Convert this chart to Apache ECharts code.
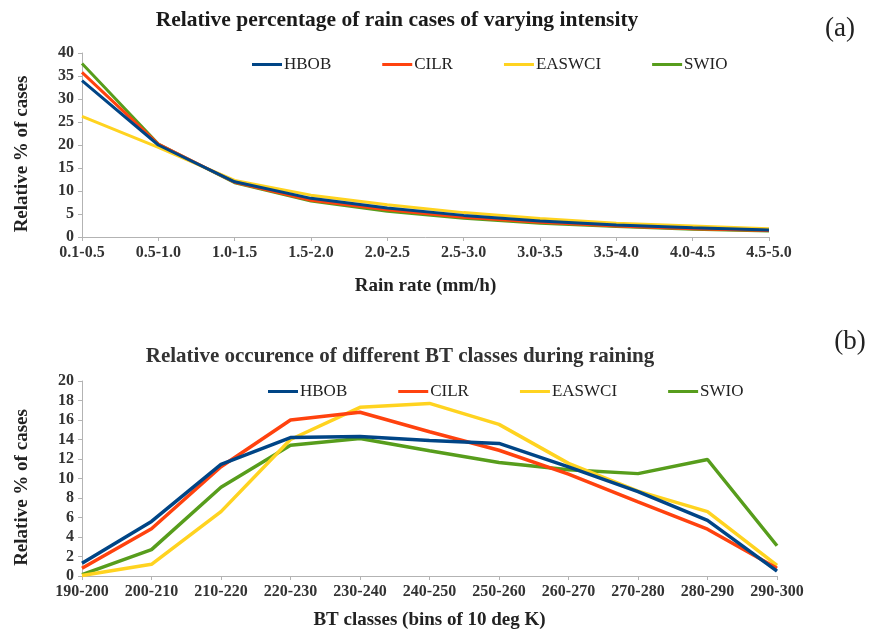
<!DOCTYPE html>
<html>
<head>
<meta charset="utf-8">
<script src="https://cdn.jsdelivr.net/npm/echarts@6/dist/echarts.min.js"></script>
<style>html,body{margin:0;padding:0;background:#fff}#c{width:869px;height:631px}</style>
</head>
<body>
<div id="c"></div>
<script>
// ---- Data ----
const seriesNames = ['HBOB', 'CILR', 'EASWCI', 'SWIO'];
const colors = ['#004586', '#ff420e', '#ffd320', '#579d1c'];

const rainCategories = ['0.1-0.5','0.5-1.0','1.0-1.5','1.5-2.0','2.0-2.5','2.5-3.0','3.0-3.5','3.5-4.0','4.0-4.5','4.5-5.0'];
const rainHBOB   = [34.0, 20.0, 12.0, 8.4, 6.3, 4.7, 3.5, 2.6, 2.0, 1.5];
const rainCILR   = [35.8, 20.2, 11.9, 8.0, 5.9, 4.3, 3.2, 2.4, 1.8, 1.4];
const rainEASWCI = [26.2, 19.5, 12.3, 9.1, 7.0, 5.3, 4.0, 3.0, 2.4, 1.8];
const rainSWIO   = [37.7, 20.2, 11.8, 7.8, 5.6, 4.1, 3.0, 2.3, 1.7, 1.3];

const btCategories = ['190-200','200-210','210-220','220-230','230-240','240-250','250-260','260-270','270-280','280-290','290-300'];
const btHBOB   = [1.3, 5.6, 11.45, 14.2, 14.3, 13.9, 13.6, 11.2, 8.65, 5.7, 0.5];
const btCILR   = [0.8, 4.85, 11.2, 16.0, 16.8, 14.8, 12.9, 10.45, 7.6, 4.8, 0.8];
const btEASWCI = [0.05, 1.2, 6.6, 14.0, 17.3, 17.7, 15.55, 11.55, 8.7, 6.6, 1.1];
const btSWIO   = [0.15, 2.7, 9.1, 13.4, 14.1, 12.85, 11.65, 10.9, 10.5, 11.95, 3.1];

const rainTicks = [0, 5, 10, 15, 20, 25, 30, 35, 40];
const btTicks = [0, 2, 4, 6, 8, 10, 12, 14, 16, 18, 20];

// ---- Chart ----
const FONT = '"Liberation Serif", "DejaVu Serif", serif';
const chart = echarts.init(document.getElementById('c'), null, {renderer: 'canvas'});

function xAxis(cats, gridIndex, name, gap) {
  return {
    type: 'category', gridIndex, data: cats, boundaryGap: false,
    name, nameLocation: 'middle', nameGap: gap,
    nameTextStyle: {fontFamily: FONT, fontWeight: 'bold', fontSize: 19, color: '#222'},
    axisLine: {lineStyle: {color: '#b3b3b3', width: 1}},
    axisTick: {show: true, length: 4, lineStyle: {color: '#b3b3b3'}, interval: 0},
    axisLabel: {interval: 0, margin: 8, fontFamily: FONT, fontWeight: 'bold', fontSize: 16, color: '#333'},
    splitLine: {show: false}
  };
}
function yAxis(ticks, gridIndex) {
  return {
    type: 'value', gridIndex, min: ticks[0], max: ticks[ticks.length - 1],
    interval: ticks[1] - ticks[0],
    name: 'Relative % of cases', nameLocation: 'middle', nameGap: 50, nameRotate: 90,
    nameTextStyle: {fontFamily: FONT, fontWeight: 'bold', fontSize: 19, color: '#222', padding: [0, 18, 0, 0]},
    axisLine: {show: true, lineStyle: {color: '#b3b3b3', width: 1}},
    axisTick: {show: true, length: 4, lineStyle: {color: '#b3b3b3'}},
    axisLabel: {margin: 8, fontFamily: FONT, fontWeight: 'bold', fontSize: 16, color: '#333'},
    splitLine: {show: false}
  };
}
function makeSeries(values, idx, axisIdx, width) {
  return {
    type: 'line', name: seriesNames[idx], data: values,
    xAxisIndex: axisIdx, yAxisIndex: axisIdx,
    symbol: 'none', smooth: false,
    lineStyle: {color: colors[idx], width},
    itemStyle: {color: colors[idx]},
    z: 10 - idx
  };
}
function legend(top, left) {
  return {
    top, left, padding: 0, orient: 'horizontal', itemGap: 51, itemWidth: 30, itemHeight: 3,
    icon: 'rect', data: seriesNames, selectedMode: false,
    textStyle: {fontFamily: FONT, fontSize: 17, color: '#222', padding: [0, 0, 0, -3]}
  };
}

const rainSets = [rainHBOB, rainCILR, rainEASWCI, rainSWIO];
const btSets = [btHBOB, btCILR, btEASWCI, btSWIO];

chart.setOption({
  animation: false,
  grid: [
    {left: 82, top: 53, width: 687, height: 184, containLabel: false},
    {left: 82, top: 381, width: 695, height: 195, containLabel: false}
  ],
  legend: [legend(56, 252), legend(383, 268)],
  xAxis: [
    xAxis(rainCategories, 0, 'Rain rate (mm/h)', 40),
    xAxis(btCategories, 1, 'BT classes (bins of 10 deg K)', 35)
  ],
  yAxis: [yAxis(rainTicks, 0), yAxis(btTicks, 1)],
  series: [
    ...rainSets.map((v, i) => makeSeries(v, i, 0, 3)),
    ...btSets.map((v, i) => makeSeries(v, i, 1, 3.5))
  ],
  graphic: [
    {type: 'text', x: 397, y: 20, style: {text: 'Relative percentage of rain cases of varying intensity', font: 'bold 21.5px ' + FONT, fill: '#1a1a1a', align: 'center', verticalAlign: 'middle'}},
    {type: 'text', x: 400, y: 357, style: {text: 'Relative occurence of different BT classes during raining', font: 'bold 21px ' + FONT, fill: '#333', align: 'center', verticalAlign: 'middle'}},
    {type: 'text', x: 840, y: 29, style: {text: '(a)', font: '27px ' + FONT, fill: '#222', align: 'center', verticalAlign: 'middle'}},
    {type: 'text', x: 850, y: 342, style: {text: '(b)', font: '27px ' + FONT, fill: '#222', align: 'center', verticalAlign: 'middle'}}
  ]
});
</script>
</body>
</html>
